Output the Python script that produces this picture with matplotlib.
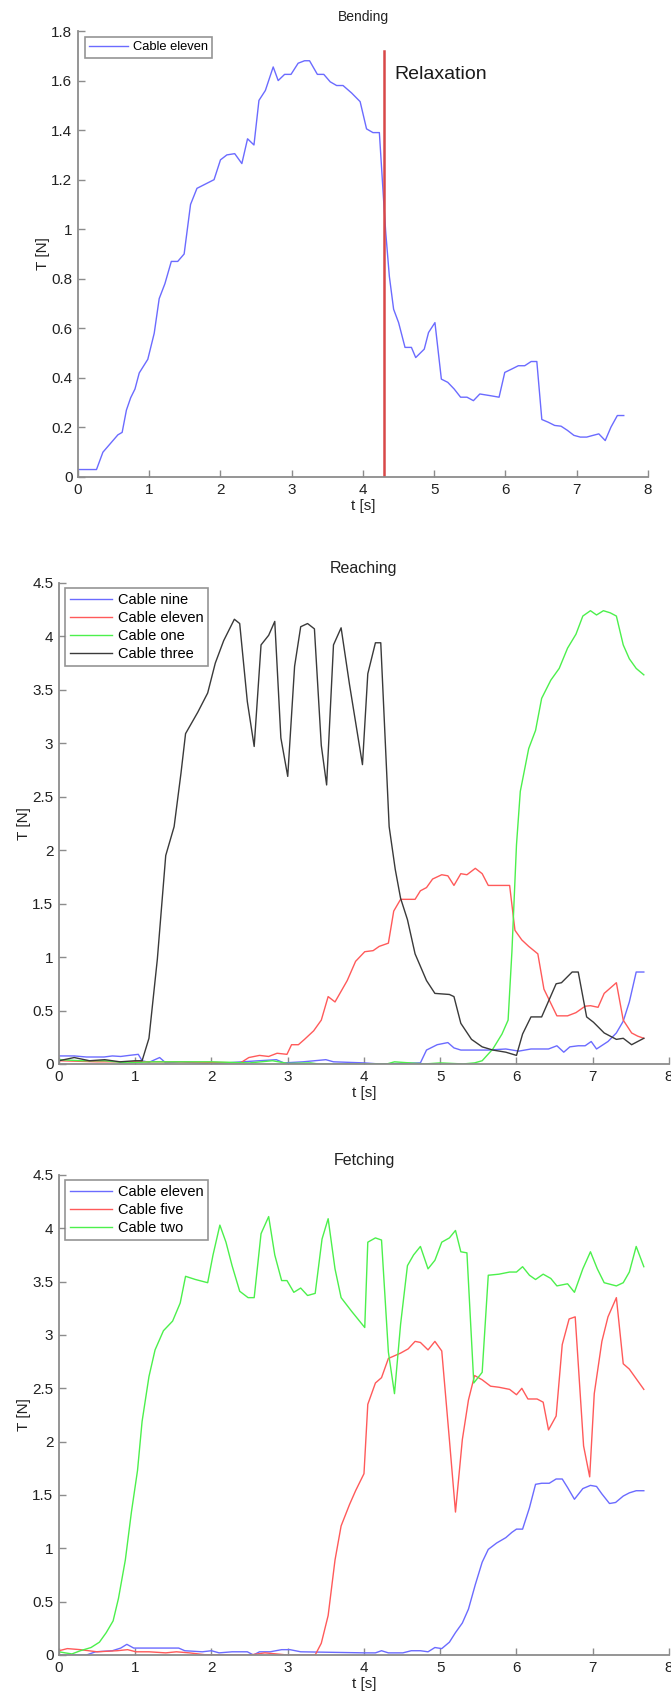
import matplotlib
matplotlib.use("Agg")
import matplotlib.pyplot as plt
from matplotlib.ticker import FuncFormatter, MultipleLocator

plt.rcParams["font.family"] = ["Liberation Sans", "DejaVu Sans"]

# Bending: cable eleven
bend_t = [0, 0.26, 0.35, 0.47, 0.56, 0.62, 0.68, 0.74, 0.80, 0.86, 0.98, 1.07, 1.14, 1.22, 1.31,
          1.40, 1.49, 1.58, 1.67, 1.91, 2.00, 2.09, 2.20, 2.30, 2.38, 2.47, 2.54, 2.63, 2.74, 2.81,
          2.90, 2.99, 3.09, 3.18, 3.25, 3.36, 3.45, 3.54, 3.63, 3.72, 3.84, 3.96, 4.05, 4.14, 4.23,
          4.29, 4.32, 4.37, 4.43, 4.50, 4.59, 4.68, 4.74, 4.86, 4.92, 5.01, 5.10, 5.19, 5.28, 5.37,
          5.46, 5.55, 5.64, 5.79, 5.91, 5.99, 6.09, 6.18, 6.27, 6.36, 6.44, 6.51, 6.60, 6.69, 6.78,
          6.87, 6.96, 7.05, 7.14, 7.23, 7.31, 7.40, 7.48, 7.57, 7.66]
bend_T = [0.03, 0.03, 0.10, 0.14, 0.17, 0.18, 0.27, 0.32, 0.355, 0.42, 0.475, 0.58, 0.72, 0.78, 0.87,
          0.87, 0.90, 1.10, 1.165, 1.20, 1.28, 1.30, 1.305, 1.265, 1.365, 1.34, 1.52, 1.56, 1.655, 1.60,
          1.625, 1.625, 1.67, 1.68, 1.68, 1.625, 1.625, 1.595, 1.58, 1.58, 1.55, 1.515, 1.405, 1.39, 1.39,
          1.115, 0.985, 0.81, 0.677, 0.623, 0.523, 0.523, 0.482, 0.516, 0.583, 0.623, 0.395, 0.382, 0.355, 0.322,
          0.322, 0.308, 0.335, 0.328, 0.322, 0.422, 0.436, 0.449, 0.449, 0.466, 0.466, 0.232, 0.221, 0.208, 0.205,
          0.188, 0.168, 0.161, 0.161, 0.168, 0.174, 0.147, 0.201, 0.248, 0.248]
relax_t = 4.30
relax_top = 1.72

# Reaching
reach_nine_t = [0, 0.2, 0.36, 0.59, 0.70, 0.81, 0.92, 1.04, 1.09, 1.18, 1.32, 1.40, 1.6, 2.0, 2.4,
                2.85, 2.95, 3.2, 3.5, 3.6, 4.0, 4.2, 4.74, 4.82, 4.96, 5.10, 5.18, 5.27, 5.46, 5.63,
                5.86, 6.03, 6.19, 6.42, 6.53, 6.62, 6.70, 6.81, 6.90, 6.98, 7.05, 7.20, 7.31, 7.40,
                7.48, 7.57, 7.67]
reach_nine_T = [0.075, 0.075, 0.065, 0.065, 0.075, 0.07, 0.08, 0.09, 0.03, 0.015, 0.06, 0.01, 0.02, 0.0, 0.02,
                0.04, 0.01, 0.02, 0.04, 0.02, 0.01, 0.0, 0.01, 0.13, 0.18, 0.20, 0.15, 0.13, 0.13, 0.13,
                0.14, 0.12, 0.14, 0.14, 0.17, 0.11, 0.16, 0.17, 0.17, 0.21, 0.14, 0.21, 0.29, 0.40,
                0.58, 0.86, 0.86]
reach_eleven_t = [0, 0.5, 1.0, 1.5, 2.0, 2.38, 2.49, 2.63, 2.75, 2.86, 2.99, 3.05, 3.14, 3.22, 3.34,
                  3.44, 3.53, 3.62, 3.78, 3.89, 4.01, 4.12, 4.20, 4.32, 4.39, 4.48, 4.67, 4.74, 4.82,
                  4.90, 5.02, 5.10, 5.18, 5.27, 5.35, 5.46, 5.55, 5.63, 5.91, 5.98, 6.07, 6.16, 6.28,
                  6.36, 6.53, 6.67, 6.78, 6.90, 6.97, 7.07, 7.15, 7.31, 7.40, 7.51, 7.59, 7.67]
reach_eleven_T = [0.03, 0.02, 0.02, 0.02, 0.015, 0.01, 0.06, 0.08, 0.07, 0.10, 0.09, 0.18, 0.18, 0.23, 0.31,
                  0.41, 0.63, 0.58, 0.78, 0.96, 1.05, 1.06, 1.10, 1.13, 1.43, 1.54, 1.54, 1.62, 1.65,
                  1.73, 1.77, 1.76, 1.67, 1.78, 1.77, 1.83, 1.78, 1.67, 1.67, 1.25, 1.16, 1.10, 1.03,
                  0.70, 0.45, 0.45, 0.48, 0.54, 0.545, 0.53, 0.66, 0.76, 0.41, 0.29, 0.26, 0.24]
reach_one_t = [0, 0.3, 0.6, 0.9, 1.2, 1.5, 2.0, 2.5, 2.8, 3.0, 3.3, 3.4, 4.3, 4.4, 4.6, 4.8, 5.0,
               5.3, 5.45, 5.55, 5.69, 5.81, 5.89, 5.94, 6.00, 6.05, 6.16, 6.25, 6.33, 6.45, 6.56,
               6.67, 6.78, 6.87, 6.97, 7.05, 7.14, 7.23, 7.31, 7.40, 7.48, 7.57, 7.67]
reach_one_T = [0.04, 0.03, 0.03, 0.01, 0.02, 0.02, 0.02, 0.01, 0.03, 0.005, 0.01, 0.0, 0.0, 0.02, 0.01, 0.0, 0.01,
               0.0, 0.01, 0.03, 0.14, 0.28, 0.41, 1.05, 2.05, 2.55, 2.95, 3.12, 3.42, 3.59, 3.70,
               3.89, 4.02, 4.19, 4.24, 4.20, 4.24, 4.22, 4.19, 3.92, 3.79, 3.70, 3.64]
reach_three_t = [0, 0.2, 0.4, 0.6, 0.8, 1.0, 1.09, 1.18, 1.29, 1.40, 1.51, 1.60, 1.66, 1.82, 1.95,
                 2.05, 2.16, 2.30, 2.37, 2.47, 2.56, 2.65, 2.75, 2.83, 2.91, 3.00, 3.09, 3.17, 3.26,
                 3.35, 3.44, 3.51, 3.60, 3.70, 3.81, 3.98, 4.05, 4.15, 4.22, 4.33, 4.41, 4.48, 4.57,
                 4.67, 4.82, 4.93, 5.12, 5.18, 5.27, 5.41, 5.55, 5.69, 5.86, 6.00, 6.08, 6.19, 6.33,
                 6.52, 6.59, 6.73, 6.81, 6.92, 7.01, 7.15, 7.31, 7.40, 7.51, 7.59, 7.67]
reach_three_T = [0.03, 0.06, 0.03, 0.04, 0.02, 0.03, 0.03, 0.24, 0.98, 1.95, 2.22, 2.72, 3.09, 3.29, 3.47,
                 3.75, 3.96, 4.16, 4.12, 3.39, 2.97, 3.92, 4.01, 4.14, 3.05, 2.69, 3.72, 4.09, 4.12,
                 4.07, 2.98, 2.61, 3.92, 4.08, 3.55, 2.80, 3.65, 3.94, 3.94, 2.22, 1.82, 1.55, 1.35,
                 1.03, 0.78, 0.66, 0.65, 0.63, 0.38, 0.23, 0.16, 0.13, 0.11, 0.08, 0.28, 0.44, 0.44,
                 0.75, 0.76, 0.86, 0.86, 0.44, 0.39, 0.29, 0.23, 0.24, 0.18, 0.21, 0.24]

# Fetching
fetch_eleven_t = [0, 0.36, 0.48, 0.70, 0.81, 0.89, 0.98, 1.26, 1.57, 1.65, 1.88, 2.0, 2.10, 2.27, 2.47,
                  2.55, 2.63, 2.77, 2.92, 3.03, 3.17, 4.01, 4.15, 4.23, 4.32, 4.51, 4.62, 4.74, 4.84,
                  4.93, 5.02, 5.12, 5.20, 5.29, 5.37, 5.46, 5.55, 5.63, 5.74, 5.86, 5.94, 6.00, 6.08,
                  6.17, 6.25, 6.33, 6.43, 6.52, 6.60, 6.67, 6.76, 6.87, 6.97, 7.05, 7.12, 7.22, 7.30,
                  7.40, 7.48, 7.57, 7.67]
fetch_eleven_T = [0, 0, 0.03, 0.04, 0.065, 0.10, 0.065, 0.065, 0.065, 0.04, 0.03, 0.04, 0.02, 0.03, 0.03,
                  0, 0.03, 0.03, 0.05, 0.05, 0.03, 0.02, 0.02, 0.04, 0.02, 0.02, 0.04, 0.04, 0.03,
                  0.07, 0.06, 0.12, 0.21, 0.30, 0.43, 0.66, 0.87, 0.99, 1.05, 1.10, 1.15, 1.18, 1.18,
                  1.38, 1.60, 1.61, 1.61, 1.65, 1.65, 1.57, 1.46, 1.56, 1.59, 1.58, 1.51, 1.42, 1.43,
                  1.49, 1.52, 1.54, 1.54]
fetch_five_t = [0, 0.11, 0.28, 0.50, 0.76, 0.90, 1.01, 1.18, 1.40, 1.54, 1.71, 1.91, 2.5, 2.7, 3.0,
                3.36, 3.44, 3.53, 3.62, 3.70, 3.81, 3.89, 4.00, 4.05, 4.15, 4.23, 4.32, 4.48, 4.58,
                4.67, 4.74, 4.84, 4.93, 5.02, 5.12, 5.20, 5.29, 5.37, 5.45, 5.55, 5.66, 5.77, 5.91,
                6.00, 6.07, 6.15, 6.27, 6.35, 6.42, 6.52, 6.60, 6.69, 6.77, 6.88, 6.96, 7.02, 7.12,
                7.20, 7.31, 7.40, 7.48, 7.60, 7.67]
fetch_five_T = [0.04, 0.06, 0.05, 0.03, 0.04, 0.05, 0.03, 0.03, 0.02, 0.03, 0.02, 0.003, 0.0, 0.02, 0.0,
                0.0, 0.11, 0.37, 0.89, 1.21, 1.41, 1.54, 1.70, 2.35, 2.55, 2.60, 2.78, 2.83, 2.87,
                2.94, 2.93, 2.86, 2.94, 2.85, 2.02, 1.34, 2.02, 2.39, 2.62, 2.58, 2.52, 2.51, 2.49,
                2.44, 2.50, 2.40, 2.40, 2.37, 2.11, 2.24, 2.91, 3.15, 3.17, 1.96, 1.67, 2.45, 2.94,
                3.17, 3.35, 2.73, 2.68, 2.56, 2.49]
fetch_two_t = [0, 0.08, 0.17, 0.28, 0.42, 0.53, 0.62, 0.71, 0.78, 0.87, 0.95, 1.03, 1.09, 1.18, 1.26,
               1.37, 1.49, 1.59, 1.66, 1.79, 1.95, 2.02, 2.11, 2.19, 2.27, 2.37, 2.48, 2.56, 2.65,
               2.75, 2.83, 2.92, 2.99, 3.08, 3.17, 3.26, 3.36, 3.45, 3.53, 3.62, 3.70, 3.84, 4.01,
               4.05, 4.15, 4.23, 4.32, 4.40, 4.48, 4.57, 4.65, 4.74, 4.84, 4.93, 5.02, 5.12, 5.20,
               5.27, 5.35, 5.44, 5.55, 5.63, 5.77, 5.91, 6.00, 6.08, 6.17, 6.25, 6.35, 6.45, 6.53,
               6.67, 6.76, 6.87, 6.97, 7.06, 7.15, 7.31, 7.40, 7.48, 7.57, 7.67]
fetch_two_T = [0.03, 0.02, 0.01, 0.04, 0.07, 0.12, 0.21, 0.32, 0.53, 0.89, 1.34, 1.73, 2.19, 2.61, 2.86,
               3.04, 3.13, 3.30, 3.55, 3.52, 3.49, 3.75, 4.03, 3.87, 3.65, 3.41, 3.35, 3.35, 3.95,
               4.11, 3.75, 3.51, 3.51, 3.40, 3.44, 3.37, 3.39, 3.90, 4.09, 3.62, 3.35, 3.22, 3.07,
               3.87, 3.91, 3.89, 2.84, 2.45, 3.10, 3.65, 3.75, 3.83, 3.62, 3.70, 3.87, 3.91, 3.98,
               3.78, 3.77, 2.55, 2.65, 3.56, 3.57, 3.59, 3.59, 3.64, 3.56, 3.52, 3.57, 3.53, 3.46,
               3.48, 3.40, 3.62, 3.78, 3.62, 3.49, 3.46, 3.49, 3.59, 3.83, 3.64]

blue = "#6b6bff"
red = "#ff5a5a"
green = "#4cf04c"
black = "#3a3a3a"
axis_gray = "#8c8c8c"

fig = plt.figure(figsize=(6.71, 16.95), dpi=100)


def style_axes(ax, ymax, ystep):
    for side in ["top", "right"]:
        ax.spines[side].set_visible(False)
    for side in ["left", "bottom"]:
        ax.spines[side].set_color(axis_gray)
        ax.spines[side].set_linewidth(1.3)
    ax.set_xlim(0, 8)
    ax.set_ylim(0, ymax)
    ax.xaxis.set_major_locator(MultipleLocator(1))
    ax.yaxis.set_major_locator(MultipleLocator(ystep))
    ax.yaxis.set_major_formatter(FuncFormatter(lambda v, p: f"{v:g}"))
    ax.tick_params(direction="in", length=5, width=1, color=axis_gray,
                   labelsize=11, labelcolor="#222222", pad=4)
    ax.set_xlabel("t [s]", fontsize=11, color="#222222", labelpad=2)
    ax.set_ylabel("T [N]", fontsize=11, color="#222222", labelpad=1)


def add_legend(ax, fs, hl, anchor):
    leg = ax.legend(loc="upper left", bbox_to_anchor=anchor, fontsize=fs,
                    fancybox=False, handlelength=hl, handletextpad=0.35,
                    labelspacing=0.28, borderpad=0.35, borderaxespad=0.0)
    leg.get_frame().set_edgecolor("#7a7a7a")
    leg.get_frame().set_linewidth(1.2)


ax1 = fig.add_axes([0.1162, 0.7186, 0.8495, 0.2631])
ax1.plot(bend_t, bend_T, color=blue, lw=1.0, label="Cable eleven")
ax1.plot([relax_t, relax_t], [0, relax_top], color="#d84848", lw=1.8)
ax1.text(relax_t + 0.14, 1.625, "Relaxation", fontsize=14, va="center", ha="left", color="#1a1a1a")
style_axes(ax1, 1.8, 0.2)
ax1.set_title("Bending", fontsize=10, color="#222222", pad=7)
add_legend(ax1, 9.3, 3.0, (0.012, 0.987))

ax2 = fig.add_axes([0.0879, 0.3723, 0.9091, 0.2838])
ax2.plot(reach_nine_t, reach_nine_T, color=blue, lw=1.0, label="Cable nine")
ax2.plot(reach_eleven_t, reach_eleven_T, color=red, lw=1.0, label="Cable eleven")
ax2.plot(reach_one_t, reach_one_T, color=green, lw=1.0, label="Cable one")
ax2.plot(reach_three_t, reach_three_T, color=black, lw=1.0, label="Cable three")
style_axes(ax2, 4.5, 0.5)
ax2.set_title("Reaching", fontsize=11.5, color="#222222", pad=7)
add_legend(ax2, 10.5, 2.9, (0.01, 0.99))

ax3 = fig.add_axes([0.0879, 0.0236, 0.9091, 0.2832])
ax3.plot(fetch_eleven_t, fetch_eleven_T, color=blue, lw=1.0, label="Cable eleven")
ax3.plot(fetch_five_t, fetch_five_T, color=red, lw=1.0, label="Cable five")
ax3.plot(fetch_two_t, fetch_two_T, color=green, lw=1.0, label="Cable two")
style_axes(ax3, 4.5, 0.5)
ax3.set_title("Fetching", fontsize=11.5, color="#222222", pad=7)
add_legend(ax3, 10.5, 2.9, (0.01, 0.99))

fig.savefig("out.png", dpi=100)
